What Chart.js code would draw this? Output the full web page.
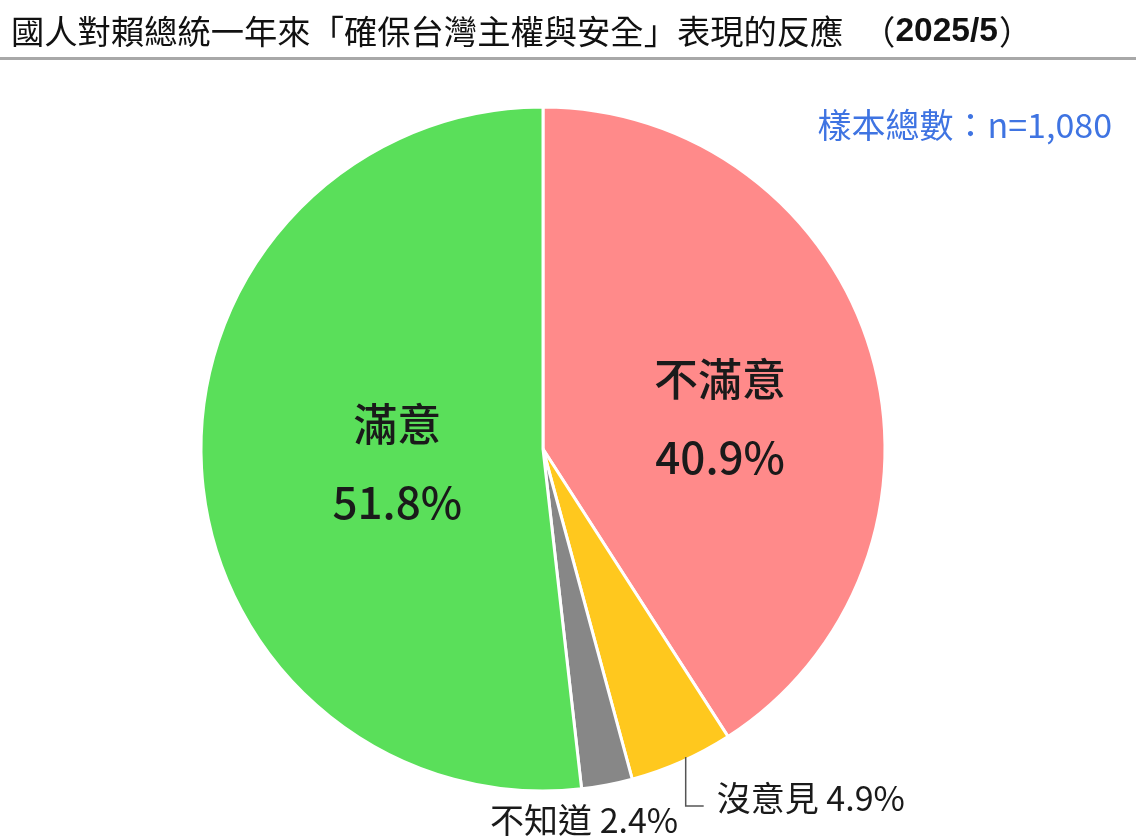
<!DOCTYPE html>
<html>
<head>
<meta charset="utf-8">
<script src="https://cdn.jsdelivr.net/npm/chart.js@4.4.1/dist/chart.umd.min.js"></script>
<style>
  body { margin: 0; background: #fff; }
  #wrap { width: 1136px; height: 840px; position: relative; }
</style>
</head>
<body>
<div id="wrap"><canvas id="myChart" width="1136" height="840"></canvas></div>
<script>
  const categories = ['不滿意', '沒意見', '不知道', '滿意']
  const shares = [40.9, 4.9, 2.4, 51.8]
  const colors = ['#ff8a8a', '#ffc81e', '#878787', '#5adf5a']
  const titleText = '國人對賴總統一年來「確保台灣主權與安全」表現的反應'
  const titleDate = '2025/5'
  const sampleText = '樣本總數：n=1,080'

  const CJK = '"Noto Sans CJK TC", "Noto Sans", sans-serif'

  // mid-angle anchor of an arc at a fraction of its radius
  function anchor(arc, f) {
    const mid = (arc.startAngle + arc.endAngle) / 2
    return { x: arc.x + Math.cos(mid) * arc.outerRadius * f,
             y: arc.y + Math.sin(mid) * arc.outerRadius * f, mid: mid }
  }

  const labelsPlugin = {
    id: 'pieLabels',
    afterDraw(chart) {
      const ctx = chart.ctx
      const arcs = chart.getDatasetMeta(0).data
      ctx.save()

      // header
      ctx.fillStyle = '#111'
      ctx.textBaseline = 'middle'
      ctx.textAlign = 'left'
      ctx.font = '33.3px ' + CJK
      ctx.fillText(titleText, 11, 31)
      let x = 11 + ctx.measureText(titleText).width
      ctx.textAlign = 'right'
      ctx.fillText('（', x + 52, 31)
      ctx.textAlign = 'left'
      ctx.font = 'bold 33.5px "Liberation Sans", Arial, sans-serif'
      ctx.fillText(titleDate, x + 52, 32)
      x += 52 + ctx.measureText(titleDate).width + 1
      ctx.font = '33.3px ' + CJK
      ctx.fillText('）', x, 31)

      ctx.strokeStyle = '#a8a8a8'
      ctx.lineWidth = 3
      ctx.beginPath()
      ctx.moveTo(0, 58.5)
      ctx.lineTo(1136, 58.5)
      ctx.stroke()

      ctx.fillStyle = '#3f74e2'
      ctx.font = '34px ' + CJK
      ctx.textAlign = 'right'
      ctx.fillText(sampleText, 1112, 125)

      // inside labels for the two big slices
      ctx.fillStyle = '#1a1a1a'
      ctx.textAlign = 'center'
      ctx.font = '500 44px ' + CJK
      ;[0, 3].forEach(i => {
        const p = anchor(arcs[i], 0.5)
        const dx = i === 0 ? 13 : 25
        const dy = i === 0 ? 18 : 5
        ctx.fillText(categories[i], p.x + dx, p.y + dy - 39)
        ctx.fillText(shares[i].toFixed(1) + '%', p.x + dx, p.y + dy + 39)
      })

      // outside labels for the small slices
      ctx.font = '34px ' + CJK
      ctx.textAlign = 'left'
      const e1 = anchor(arcs[1], 0.985)
      ctx.strokeStyle = '#555'
      ctx.lineWidth = 1.5
      ctx.beginPath()
      ctx.moveTo(e1.x + 6, e1.y)
      ctx.lineTo(e1.x + 6, e1.y + 49)
      ctx.lineTo(e1.x + 24, e1.y + 49)
      ctx.stroke()
      ctx.fillText(categories[1] + ' ' + shares[1].toFixed(1) + '%', e1.x + 37, e1.y + 41)

      const e2 = anchor(arcs[2], 1)
      ctx.textAlign = 'center'
      ctx.fillText(categories[2] + ' ' + shares[2].toFixed(1) + '%', e2.x - 23, e2.y + 35)

      ctx.restore()
    }
  }

  const config = {
    type: 'pie',
    data: {
      labels: categories,
      datasets: [{
        data: shares,
        backgroundColor: colors,
        borderColor: '#ffffff',
        borderWidth: 3,
        radius: 342,
      }]
    },
    options: {
      responsive: false,
      animation: false,
      layout: { padding: { top: 107, bottom: 49, left: 201, right: 251 } },
      plugins: {
        legend: { display: false },
        tooltip: { enabled: false },
      }
    },
    plugins: [labelsPlugin]
  }

  const myChart = new Chart(document.getElementById('myChart'), config)
</script>
</body>
</html>
